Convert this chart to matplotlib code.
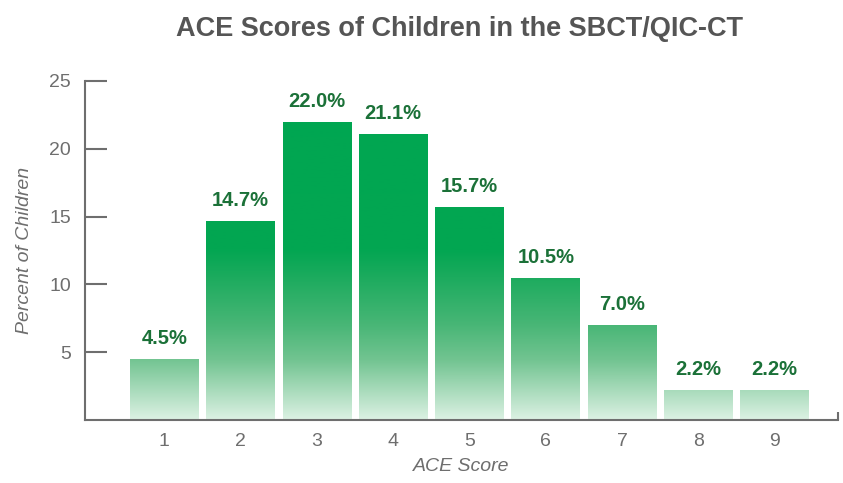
import numpy as np
import matplotlib.pyplot as plt
from matplotlib.colors import LinearSegmentedColormap

scores = [1, 2, 3, 4, 5, 6, 7, 8, 9]
percent = [4.5, 14.7, 22.0, 21.1, 15.7, 10.5, 7.0, 2.2, 2.2]
labels = ["4.5%", "14.7%", "22.0%", "21.1%", "15.7%", "10.5%", "7.0%", "2.2%", "2.2%"]
yticks = [5, 10, 15, 20, 25]

plt.rcParams["font.family"] = ["Liberation Sans Narrow", "Liberation Sans", "DejaVu Sans"]

grey = "#6e6e6e"
# gradient runs over the data range 0..25, solid from about 12.5 upward
green_cmap = LinearSegmentedColormap.from_list(
    "acegreen",
    [(0.0, "#dcf1e3"), (0.176, "#72c491"), (0.28, "#48b676"),
     (0.42, "#1cab5e"), (0.5, "#03a652"), (1.0, "#00a651")])

fig = plt.figure(figsize=(8.43, 4.83), dpi=100)
ax = fig.add_axes([0.1008, 0.1304, 0.8932, 0.7019])

bars = ax.bar(scores, percent, width=0.9, color="none", edgecolor="none")
gradient = np.linspace(0, 1, 256).reshape(-1, 1)
for b in bars:
    im = ax.imshow(gradient, cmap=green_cmap, origin="lower", aspect="auto",
                   extent=[-0.04, 9.83, 0, 25], zorder=1)
    im.set_clip_path(b)

for x, y, t in zip(scores, percent, labels):
    ax.text(x, y + 0.8, t, ha="center", va="bottom", fontsize=14.5,
            fontweight="bold", color="#1b7138")

ax.set_xlim(-0.04, 9.83)
ax.set_ylim(0, 25)
ax.set_yticks(yticks)
ax.set_xticks(scores)
ax.tick_params(axis="y", direction="in", length=16, width=1.5, color=grey,
               labelcolor=grey, labelsize=14, pad=10)
ax.tick_params(axis="x", length=0, labelcolor=grey, labelsize=14, pad=9)
for s in ["top", "right"]:
    ax.spines[s].set_visible(False)
for s in ["left", "bottom"]:
    ax.spines[s].set_color(grey)
    ax.spines[s].set_linewidth(1.5)
# little upturn at the right end of the x axis
ax.plot([1, 1], [0, 0.025], transform=ax.transAxes, color=grey, lw=1.5,
        clip_on=False, solid_capstyle="butt")

ax.set_ylabel("Percent of Children", fontsize=14, style="italic", color=grey,
              labelpad=12)
ax.set_xlabel("ACE Score", fontsize=14, style="italic", color=grey, labelpad=6)

fig.text(0.545, 0.94, "ACE Scores of Children in the SBCT/QIC-CT", ha="center",
         va="center", fontsize=19.5, fontweight="bold", color="#555555")

fig.savefig("out.png", dpi=100)
